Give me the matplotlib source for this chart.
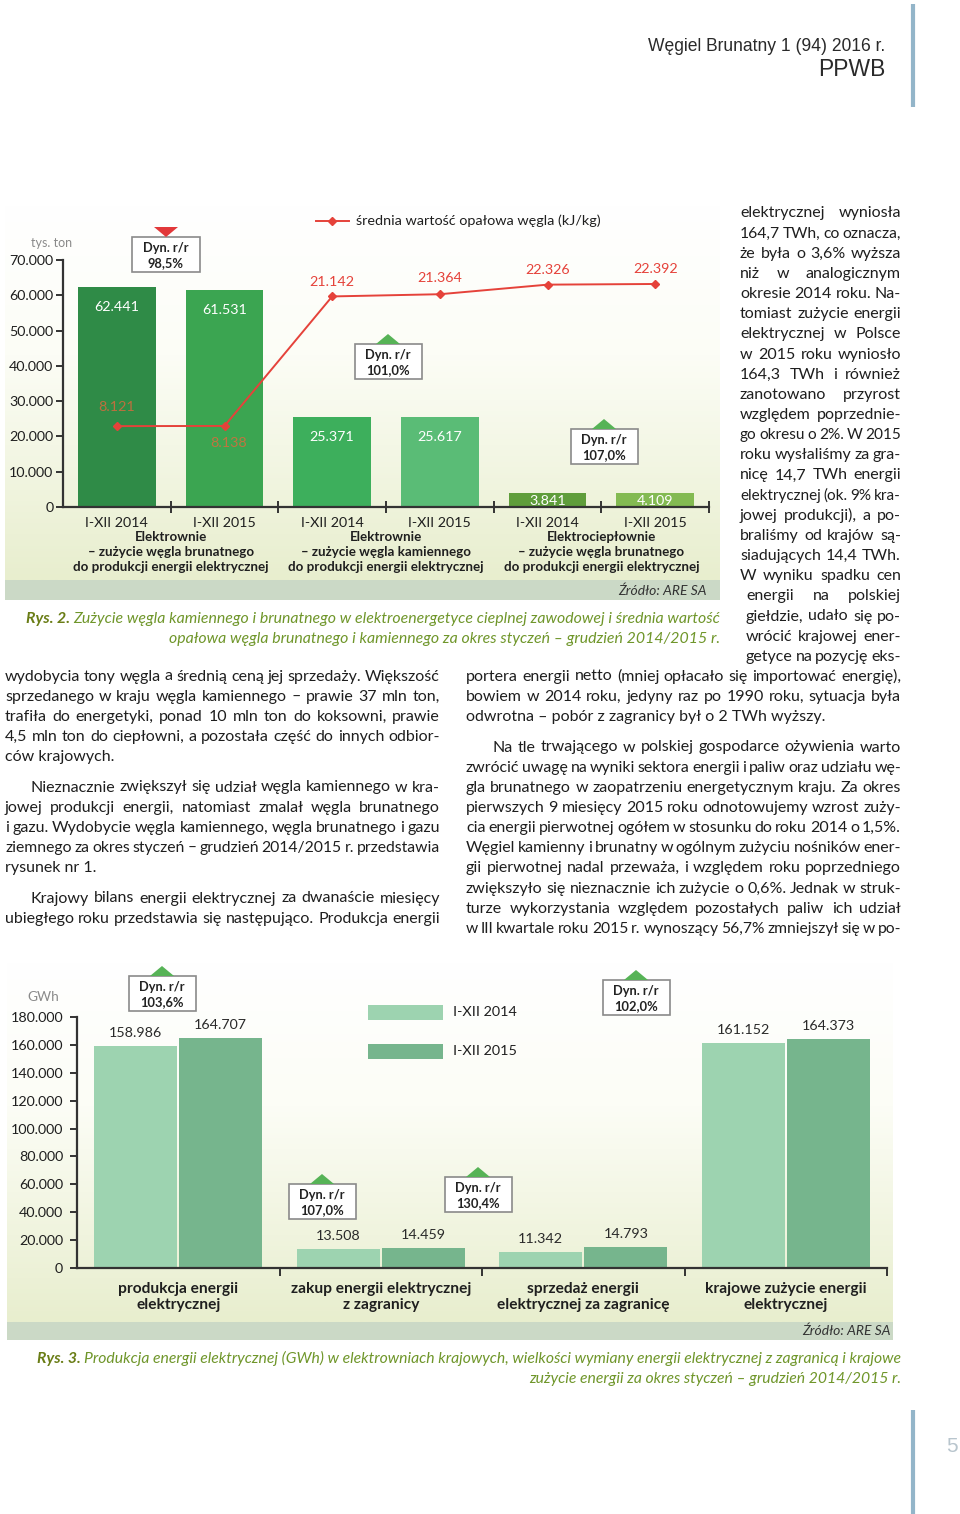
import matplotlib
matplotlib.use("Agg")
import matplotlib.pyplot as plt
import numpy as np
from matplotlib.patches import Rectangle, Polygon
from matplotlib.colors import LinearSegmentedColormap

plt.rcParams['font.family'] = ['Lato', 'DejaVu Sans']

# ---------------- data: Rys. 2 ----------------
coal_categories = ["I-XII 2014", "I-XII 2015", "I-XII 2014", "I-XII 2015", "I-XII 2014", "I-XII 2015"]
coal_groups = ["Elektrownie\n– zużycie węgla brunatnego\ndo produkcji energii elektrycznej",
               "Elektrownie\n– zużycie węgla kamiennego\ndo produkcji energii elektrycznej",
               "Elektrociepłownie\n– zużycie węgla brunatnego\ndo produkcji energii elektrycznej"]
coal_use = [62441, 61531, 25371, 25617, 3841, 4109]          # tys. ton
calorific = [8121, 8138, 21142, 21364, 22326, 22392]         # kJ/kg
coal_dyn = ["98,5%", "101,0%", "107,0%"]
coal_ticks = [0, 10000, 20000, 30000, 40000, 50000, 60000, 70000]
coal_unit = "tys. ton"
line_legend = "średnia wartość opałowa węgla (kJ/kg)"

# ---------------- data: Rys. 3 ----------------
energy_groups = ["produkcja energii\nelektrycznej",
                 "zakup energii elektrycznej\nz zagranicy",
                 "sprzedaż energii\nelektrycznej za zagranicę",
                 "krajowe zużycie energii\nelektrycznej"]
energy_2014 = [158986, 13508, 11342, 161152]
energy_2015 = [164707, 14459, 14793, 164373]
energy_series = ["I-XII 2014", "I-XII 2015"]
energy_dyn = ["103,6%", "107,0%", "130,4%", "102,0%"]
energy_ticks = [0, 20000, 40000, 60000, 80000, 100000, 120000, 140000, 160000, 180000]
energy_unit = "GWh"


def fmt(v):
    return f"{v:,}".replace(",", ".")


# ---------------- figure / page layers ----------------
W, H = 960, 1514
fig = plt.figure(figsize=(W / 100, H / 100), dpi=100)
fig.patch.set_facecolor("white")


def px_axes(x0, y0, x1, y1, z):
    ax = fig.add_axes([x0 / W, 1 - y1 / H, (x1 - x0) / W, (y1 - y0) / H])
    ax.set_zorder(z)
    ax.patch.set_alpha(0)
    return ax


bg = px_axes(0, 0, W, H, 0)
top = px_axes(0, 0, W, H, 10)
for a in (bg, top):
    a.set_xlim(0, W)
    a.set_ylim(H, 0)
    a.axis("off")

renderer = fig.canvas.get_renderer()


def tw(s, **kw):
    t = top.text(0, 0, s, **kw)
    w = t.get_window_extent(renderer=renderer).width
    t.remove()
    return w


TXT = "#1f1f1f"
AX = "#333333"

# ---------------- panel backgrounds ----------------
cmap_bg = LinearSegmentedColormap.from_list("bgp", [(0, "#ffffff"), (0.4, "#fcfdf6"), (1, "#e8eece")])


def panel(x0, y0, x1, yband, yend):
    grad = np.linspace(0, 1, 256)[:, None]
    bg.imshow(grad, cmap=cmap_bg, extent=[x0, x1, yband, y0], aspect="auto", zorder=0, interpolation="bilinear")
    bg.add_patch(Rectangle((x0, yband), x1 - x0, yend - yband, fc="#cbd9c6", ec="none", zorder=1))


panel(5, 205, 720, 580, 600)
panel(7, 962, 893, 1322, 1340)
bg.set_xlim(0, W)
bg.set_ylim(H, 0)


def dyn_box(cx, ty, pct, up, w=67, h=35):
    top.add_patch(Rectangle((cx - w / 2, ty), w, h, fc="white", ec="#8a8a8a", lw=1.2, zorder=5))
    top.text(cx, ty + h / 2 + 1, "Dyn. r/r\n" + pct, ha="center", va="center", fontsize=9.3,
             fontweight="bold", color="#222222", linespacing=1.25, zorder=6)
    tww, th = 24, 10
    if up:
        pts = [(cx - tww / 2, ty), (cx + tww / 2, ty), (cx, ty - th)]
        col = "#56b356"
    else:
        pts = [(cx - tww / 2, ty - th), (cx + tww / 2, ty - th), (cx, ty)]
        col = "#e2383a"
    top.add_patch(Polygon(pts, closed=True, fc=col, ec="none", zorder=5))


# ================= Rys. 2 chart =================
ax1 = px_axes(63, 260, 709, 507, 5)
ax1.set_xlim(0, len(coal_use))
ax1.set_ylim(0, max(coal_ticks))
x1 = np.arange(len(coal_use)) + 0.5
coal_colors = ["#2f8b47", "#3ba551", "#3daf5c", "#5abc76", "#5f9d3b", "#83ba52"]
ax1.bar(x1, coal_use, width=0.72, color=coal_colors, zorder=2)
for s in ("top", "right"):
    ax1.spines[s].set_visible(False)
for s in ("left", "bottom"):
    ax1.spines[s].set_color(AX)
    ax1.spines[s].set_linewidth(1.6)
ax1.set_yticks(coal_ticks)
ax1.set_yticklabels([fmt(v) for v in coal_ticks])
ax1.tick_params(axis="y", direction="out", length=5, width=1.4, pad=2, labelsize=10.3, colors=AX, labelcolor=TXT)
ax1.set_xticks(np.arange(1, len(coal_use) + 1))
ax1.set_xticklabels([])
ax1.tick_params(axis="x", which="major", direction="inout", length=8, width=1.4, colors=AX)
ax1.set_xticks(x1, minor=True)
ax1.set_xticklabels(coal_categories, minor=True)
ax1.tick_params(axis="x", which="minor", length=0, pad=7, labelsize=10.3, labelcolor=TXT)

for xi, v in zip(x1, coal_use):
    if v > 10000:
        ax1.annotate(fmt(v), (xi, v), xytext=(0, -20), textcoords="offset pixels",
                     ha="center", va="center", fontsize=10.3, color="white", zorder=4)
    else:
        ax1.annotate(fmt(v), (xi, v / 2), xytext=(0, -1), textcoords="offset pixels",
                     ha="center", va="center", fontsize=10.3, color="white", zorder=4)

for gi, g in enumerate(coal_groups):
    ax1.annotate(g, (2 * gi + 1, 0), xytext=(0, -45), textcoords="offset pixels", ha="center",
                 va="center", fontsize=9.6, fontweight="bold", color=TXT, linespacing=1.3,
                 annotation_clip=False)

ax1b = ax1.twinx()
ax1b.set_zorder(6)
ax1b.set_ylim(0, 24800)
ax1b.axis("off")
RED = "#e5423a"
ax1b.plot(x1, calorific, color=RED, lw=1.4, marker="D", ms=4.5, zorder=3)
line_lbl_off = [(0, 19), (4, -17), (0, 14), (0, 16), (0, 15), (0, 15)]
for i, (xi, v) in enumerate(zip(x1, calorific)):
    faded = v < 10000
    ax1b.annotate(fmt(v), (xi, v), xytext=(line_lbl_off[i][0], line_lbl_off[i][1]),
                  textcoords="offset pixels", ha="center", va="center", fontsize=10.3,
                  color="#e2683c" if faded else RED, alpha=0.8 if faded else 1)

top.text(52, 243, coal_unit, ha="center", va="center", fontsize=9, color="#8a8a8a")
top.plot([316, 349], [221, 221], color=RED, lw=1.4)
top.plot([332], [221], marker="D", ms=4.5, color=RED)
top.text(356, 221, line_legend, ha="left", va="center", fontsize=10.4, color=TXT)
top.text(707, 591, "Źródło: ARE SA", ha="right", va="center", fontsize=10, style="italic", color="#333333")

dyn_box(166, 237, coal_dyn[0], False, w=68, h=35)
dyn_box(388, 344, coal_dyn[1], True)
dyn_box(604, 429, coal_dyn[2], True)

# ================= Rys. 3 chart =================
ax2 = px_axes(77, 1017, 887, 1268, 5)
ax2.set_xlim(0, len(energy_groups))
ax2.set_ylim(0, max(energy_ticks))
xg = np.arange(len(energy_groups)) + 0.5
C14, C15 = "#9dd3b0", "#76b58d"
ax2.bar(xg - 0.21, energy_2014, width=0.41, color=C14, zorder=2)
ax2.bar(xg + 0.21, energy_2015, width=0.41, color=C15, zorder=2)
for s in ("top", "right"):
    ax2.spines[s].set_visible(False)
for s in ("left", "bottom"):
    ax2.spines[s].set_color(AX)
    ax2.spines[s].set_linewidth(1.6)
ax2.set_yticks(energy_ticks)
ax2.set_yticklabels([fmt(v) for v in energy_ticks])
ax2.tick_params(axis="y", direction="out", length=5, width=1.4, pad=5, labelsize=10.3, colors=AX, labelcolor=TXT)
ax2.set_xticks(np.arange(1, len(energy_groups) + 1))
ax2.set_xticklabels([])
ax2.tick_params(axis="x", which="major", direction="out", length=6, width=1.4, colors=AX)
for xi, a, b in zip(xg, energy_2014, energy_2015):
    ax2.annotate(fmt(a), (xi - 0.21, a), xytext=(0, 13), textcoords="offset pixels",
                 ha="center", va="center", fontsize=10.3, color="#2a2a2a")
    ax2.annotate(fmt(b), (xi + 0.21, b), xytext=(0, 13), textcoords="offset pixels",
                 ha="center", va="center", fontsize=10.3, color="#2a2a2a")
for xi, g in zip(xg, energy_groups):
    ax2.annotate(g, (xi, 0), xytext=(0, -29), textcoords="offset pixels", ha="center",
                 va="center", fontsize=11.2, fontweight="bold", color=TXT, linespacing=1.2,
                 annotation_clip=False)

top.text(43, 997, energy_unit, ha="center", va="center", fontsize=9.8, color="#8a8a8a")
top.add_patch(Rectangle((368, 1005), 75, 15, fc=C14, ec="none"))
top.add_patch(Rectangle((368, 1044), 75, 15, fc=C15, ec="none"))
top.text(453, 1012, energy_series[0], ha="left", va="center", fontsize=10.4, color=TXT)
top.text(453, 1051, energy_series[1], ha="left", va="center", fontsize=10.4, color=TXT)
top.text(891, 1331, "Źródło: ARE SA", ha="right", va="center", fontsize=10, style="italic", color="#333333")

dyn_box(162, 976, energy_dyn[0], True)
dyn_box(322, 1184, energy_dyn[1], True)
dyn_box(478, 1177, energy_dyn[2], True)
dyn_box(636, 980, energy_dyn[3], True)

# ================= captions =================
CAP_B = "#6a7d16"
CAP = "#6f962a"


def caption(x_right, y_base, x_left1, prefix, line1, line2, base=10.5):
    kwb = dict(fontweight="bold", style="italic", color=CAP_B)
    kwr = dict(style="italic", color=CAP)
    nat = tw(prefix + " ", fontsize=base, **kwb) + tw(line1, fontsize=base, **kwr)
    fs = base * (x_right - x_left1) / nat
    wp = tw(prefix + " ", fontsize=fs, **kwb)
    wl = tw(line1, fontsize=fs, **kwr)
    xs = x_right - wl - wp
    top.text(xs, y_base, prefix, ha="left", va="baseline", fontsize=fs, **kwb)
    top.text(x_right, y_base, line1, ha="right", va="baseline", fontsize=fs, **kwr)
    top.text(x_right, y_base + 20, line2, ha="right", va="baseline", fontsize=fs, **kwr)


caption(720, 623, 25, "Rys. 2.",
        "Zużycie węgla kamiennego i brunatnego w elektroenergetyce cieplnej zawodowej i średnia wartość",
        "opałowa węgla brunatnego i kamiennego za okres styczeń – grudzień 2014/2015 r.")
caption(901, 1363, 33, "Rys. 3.",
        "Produkcja energii elektrycznej (GWh) w elektrowniach krajowych, wielkości wymiany energii elektrycznej z zagranicą i krajowe",
        "zużycie energii za okres styczeń – grudzień 2014/2015 r.")

# ================= header / footer =================
hfs = 12.0 * 239 / tw("Węgiel Brunatny 1 (94) 2016 r.", fontsize=12.0, family="Liberation Sans")
top.text(885, 51, "Węgiel Brunatny 1 (94) 2016 r.", ha="right", va="baseline", fontsize=hfs,
         family="Liberation Sans", color="#2a2a2a")
top.text(885, 76, "PPWB", ha="right", va="baseline", fontsize=hfs * 1.3, family="Liberation Sans", color="#2a2a2a")
top.plot([913, 913], [4, 107], color="#93b5c9", lw=3, solid_capstyle="butt")
top.plot([913, 913], [1410, 1514], color="#93b5c9", lw=3, solid_capstyle="butt")
top.text(952, 1447, "5", ha="center", va="center", fontsize=15, family="Liberation Sans", color="#b8c5cd")

# ================= body text =================
BODY_FS = 11.5
BODY_COL = "#1e1e1e"
STEP = 20.15


def paragraph(x0, x1, y0, lines, first_indent=0, last_free=True, starts=None):
    for i, ln in enumerate(lines):
        xs = x0 + (first_indent if i == 0 else 0)
        if starts is not None:
            xs = starts[i]
        base = y0 + i * STEP + 4.5
        words = ln.split(" ")
        fs = BODY_FS
        if (last_free and i == len(lines) - 1) or len(words) == 1:
            top.text(xs, base, ln, ha="left", va="baseline", fontsize=fs, color=BODY_COL)
            continue
        ws = [tw(w, fontsize=fs) for w in words]
        min_gap = 2.6
        need = sum(ws) + min_gap * (len(words) - 1)
        if need > x1 - xs:
            fs = fs * (x1 - xs - min_gap * (len(words) - 1)) / sum(ws)
            ws = [tw(w, fontsize=fs) for w in words]
        gap = (x1 - xs - sum(ws)) / (len(words) - 1)
        x = xs
        for w, wd in zip(words, ws):
            top.text(x, base, w, ha="left", va="baseline", fontsize=fs, color=BODY_COL)
            x += wd + gap


narrow = ["elektrycznej wyniosła", "164,7 TWh, co oznacza,", "że była o 3,6% wyższa",
          "niż w analogicznym", "okresie 2014 roku. Na-", "tomiast zużycie energii",
          "elektrycznej w Polsce", "w 2015 roku wyniosło", "164,3 TWh i również",
          "zanotowano przyrost", "względem poprzednie-", "go okresu o 2%. W 2015",
          "roku wysłaliśmy za gra-", "nicę 14,7 TWh energii", "elektrycznej (ok. 9% kra-",
          "jowej produkcji), a po-", "braliśmy od krajów są-", "siadujących 14,4 TWh.",
          "W wyniku spadku cen", "energii na polskiej", "giełdzie, udało się po-",
          "wrócić krajowej ener-", "getyce na pozycję eks-"]
paragraph(740, 901, 213, narrow, last_free=False,
          starts=[740] * 19 + [746] * 4)

paragraph(5, 440, 676, [
    "wydobycia tony węgla a średnią ceną jej sprzedaży. Większość",
    "sprzedanego w kraju węgla kamiennego – prawie 37 mln ton,",
    "trafiła do energetyki, ponad 10 mln ton do koksowni, prawie",
    "4,5 mln ton do ciepłowni, a pozostała część do innych odbior-",
    "ców krajowych."])
paragraph(5, 440, 787, [
    "Nieznacznie zwiększył się udział węgla kamiennego w kra-",
    "jowej produkcji energii, natomiast zmalał węgla brunatnego",
    "i gazu. Wydobycie węgla kamiennego, węgla brunatnego i gazu",
    "ziemnego za okres styczeń – grudzień 2014/2015 r. przedstawia",
    "rysunek nr 1."], first_indent=26)
paragraph(5, 440, 898, [
    "Krajowy bilans energii elektrycznej za dwanaście miesięcy",
    "ubiegłego roku przedstawia się następująco. Produkcja energii"],
    first_indent=26, last_free=False)

paragraph(466, 901, 676, [
    "portera energii netto (mniej opłacało się importować energię),",
    "bowiem w 2014 roku, jedyny raz po 1990 roku, sytuacja była",
    "odwrotna – pobór z zagranicy był o 2 TWh wyższy."])
paragraph(466, 901, 747, [
    "Na tle trwającego w polskiej gospodarce ożywienia warto",
    "zwrócić uwagę na wyniki sektora energii i paliw oraz udziału wę-",
    "gla brunatnego w zaopatrzeniu energetycznym kraju. Za okres",
    "pierwszych 9 miesięcy 2015 roku odnotowujemy wzrost zuży-",
    "cia energii pierwotnej ogółem w stosunku do roku 2014 o 1,5%.",
    "Węgiel kamienny i brunatny w ogólnym zużyciu nośników ener-",
    "gii pierwotnej nadal przeważa, i względem roku poprzedniego",
    "zwiększyło się nieznacznie ich zużycie o 0,6%. Jednak w struk-",
    "turze wykorzystania względem pozostałych paliw ich udział",
    "w III kwartale roku 2015 r. wynoszący 56,7% zmniejszył się w po-"],
    first_indent=26, last_free=False)

fig.savefig("out.png", dpi=100, facecolor="white")
